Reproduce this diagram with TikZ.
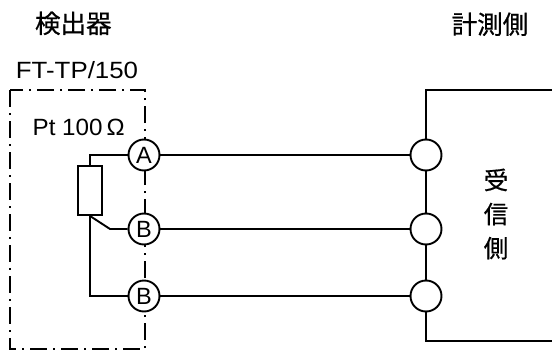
\documentclass[tikz,border=0pt]{standalone}
\usepackage{fontspec}
\setmainfont{Liberation Sans}
\newfontfamily\jp[FakeBold=0.6]{Noto Sans CJK JP}
\begin{document}
\begin{tikzpicture}[x=1pt,y=-1pt,line width=1.9pt,
  frame/.style={line width=1.9pt,dash pattern=on 17pt off 6pt on 2pt off 6pt},
  term/.style={circle,draw,fill=white,minimum size=31pt,inner sep=0pt,line width=1.9pt,font=\fontsize{23.5}{23.5}\selectfont},
  resist/.style={draw,minimum width=24pt,minimum height=49pt,inner sep=0pt,line width=1.9pt},
  lbl/.style={inner sep=0pt},
  jpl/.style={inner sep=0pt,font=\jp\fontsize{25.5}{25.5}\selectfont},
  latl/.style={inner sep=0pt,anchor=base west,font=\fontsize{23.5}{23.5}\selectfont}]
\useasboundingbox (0,0) rectangle (552,351);
% frames
\coordinate (f1) at (10,90);
\coordinate (f2) at (145,349);
\draw[frame] (f1) rectangle (f2);
\coordinate (r1) at (426,90);
\coordinate (r2) at (560,90);
\coordinate (r3) at (426,341);
\coordinate (r4) at (560,341);
\draw (r2) -- (r1) -- (r3) -- (r4);
% terminals
\node[term] (A) at (144,155) {A};
\node[term] (B1) at (144,229) {B};
\node[term] (B2) at (144,296) {B};
\node[term] (RA) at (426,155) {};
\node[term] (RB1) at (426,229) {};
\node[term] (RB2) at (426,296) {};
% resistor
\node[resist] (R) at (90,190.5) {};
\coordinate (jA) at (90,155);
\coordinate (knee) at (110,229);
\coordinate (jB2) at (90,296);
\draw (A.west) -- (jA) -- (R.north);
\draw (R.south) -- (knee) -- (B1.west);
\draw (R.south) -- (jB2) -- (B2.west);
\draw (A) -- (RA);
\draw (B1) -- (RB1);
\draw (B2) -- (RB2);
% labels
\node[jpl] (t1) at (73.3,23.3) {検出器};
\node[jpl] (t2) at (490,24.2) {計測側};
\node[latl] (t3) at (15,78.3) {\scalebox{1.1}[1]{FT-TP/150}};
\node[latl] (t4) at (31.7,135) {\scalebox{1.03}[1]{Pt 100\,Ω}};
\node[lbl,align=center,font=\jp\fontsize{24.5}{34}\selectfont] (t5) at (496,214) {受\\信\\側};
\end{tikzpicture}
\end{document}
